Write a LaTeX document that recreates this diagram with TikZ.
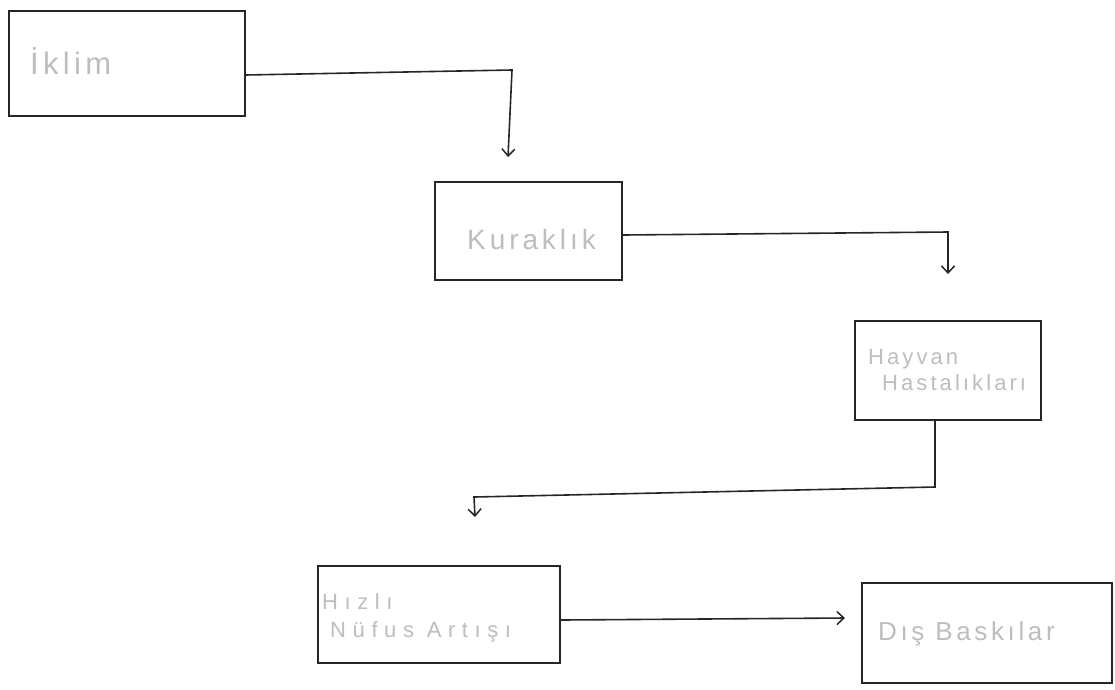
\documentclass[tikz,border=0pt]{standalone}
\usepackage{fontspec}
\setmainfont{Liberation Sans}[LetterSpace=14]
\newfontfamily\widehand{Liberation Sans}[LetterSpace=30]
\usetikzlibrary{arrows.meta,positioning}
\begin{document}
\begin{tikzpicture}[x=1pt,y=-1pt,
  box/.style={draw=black!85, line width=2pt, minimum width=#1, inner sep=0pt},
  label text/.style={text=black!26, font=\fontsize{26}{30}\selectfont, anchor=west, align=left, inner sep=0pt},
  link/.style={draw=black!85, line width=1.6pt, -{Straight Barb[length=7pt,width=13pt,line width=1.5pt]}}]
  \useasboundingbox (0,0) rectangle (1115,689);
  % boxes
  \node[box=236pt, minimum height=105pt] (iklim) at (126.5,63.5) {};
  \node[box=187pt, minimum height=98pt] (kurak) at (528.5,230.5) {};
  \node[box=186pt, minimum height=99pt] (hayvan) at (948,370.5) {};
  \node[box=242pt, minimum height=97pt] (hizli) at (439,614) {};
  \node[box=250pt, minimum height=100pt] (dis) at (987,632.5) {};
  % texts
  \node[label text, font=\fontsize{31}{36}\selectfont] (t1) at (30,61) {İklim};
  \node[label text, font=\fontsize{28}{32}\selectfont] (t2) at (467,239) {Kuraklık};
  \node[label text, font=\fontsize{22}{28}\selectfont] (t3) at (868,370) {Hayvan\\[-2pt]\hspace*{14pt}Hastalıkları};
  \node[label text, font=\widehand\fontsize{22}{30}\selectfont] (t4) at (322,618) {Hızlı\\[-2pt]\hspace*{8pt}Nüfus Artışı};
  \node[label text] (t5) at (878,634) {Dış Baskılar};
  % arrow ends
  \coordinate (e1) at (508,157);
  \coordinate (e2) at (948,274);
  \coordinate (e3) at (475,517);
  \coordinate (e4) at (845,618);
  % connectors
  \draw[link] (iklim.east |- 0,75) -- (512,70) -- (e1);
  \draw[link] (kurak.east |- 0,235) -- (948,232) -- (e2);
  \draw[link] (hayvan.south -| 935,0) -- (935,487) -- (474,497) -- (e3);
  \draw[link] (hizli.east |- 0,620) -- (e4);
\end{tikzpicture}
\end{document}
